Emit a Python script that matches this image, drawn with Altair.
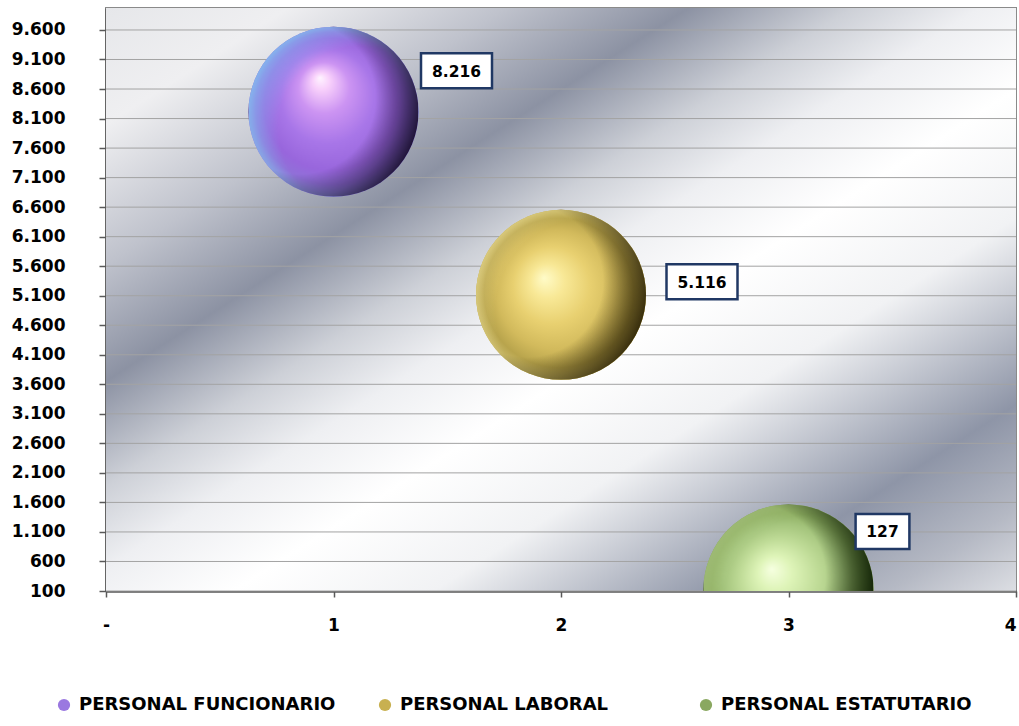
import altair as alt
import pandas as pd

# --- data -------------------------------------------------------------
series = ["PERSONAL FUNCIONARIO", "PERSONAL LABORAL", "PERSONAL ESTATUTARIO"]
x_vals = [1, 2, 3]
y_vals = [8216, 5116, 127]
x_ticks = [0, 1, 2, 3, 4]
y_ticks = [100, 600, 1100, 1600, 2100, 2600, 3100, 3600, 4100, 4600,
           5100, 5600, 6100, 6600, 7100, 7600, 8100, 8600, 9100, 9600]

# --- styling ----------------------------------------------------------
W, H = 910, 583
FONT = "DejaVu Sans"
legend_colors = ["#9a78e0", "#c8b050", "#8aa860"]
bubble_diameter = 170
bubble_area = bubble_diameter ** 2   # vega circles: diameter = sqrt(size)
label_dx = [123, 141, 94]
label_dy = [-41, -13, -58]


def stops(pairs):
    return [alt.GradientStop(color=c, offset=o) for o, c in pairs]


def radial(pairs, fx, fy, cx=0.5, cy=0.5, r=0.5):
    return alt.RadialGradient(gradient="radial", stops=stops(pairs),
                              x1=fx, y1=fy, r1=0, x2=cx, y2=cy, r2=r)


def linear(pairs, x1, y1, x2, y2):
    return alt.LinearGradient(gradient="linear", stops=stops(pairs),
                              x1=x1, y1=y1, x2=x2, y2=y2)


# sphere body: bright highlight toward the upper left
sphere_body = [
    radial([(0, "#fff4ff"), (0.1, "#f8d0fb"), (0.3, "#cc94f2"), (0.55, "#a876e8"),
            (0.78, "#9866dc"), (0.9, "#9070d8"), (1, "#8a90d8")], 0.42, 0.3),
    radial([(0, "#fffbc8"), (0.2, "#f8e896"), (0.45, "#e8d070"), (0.7, "#d2ba5c"),
            (0.88, "#b8a44c"), (1, "#c8b868")], 0.4, 0.4),
    radial([(0, "#f6ffe0"), (0.2, "#def4b8"), (0.45, "#c0dc98"), (0.7, "#a4c47c"),
            (0.88, "#8cac60"), (1, "#86a45c")], 0.4, 0.38),
]
# light crescent on the upper-left rim
sphere_glow = [
    radial([(0, "rgba(130,200,250,0)"), (0.62, "rgba(130,200,250,0)"),
            (0.85, "rgba(130,200,250,0.55)"), (1, "rgba(130,200,250,0.9)")],
           0.66, 0.6, 0.66, 0.6, 0.78),
    radial([(0, "rgba(255,240,170,0)"), (0.7, "rgba(255,240,170,0)"),
            (1, "rgba(255,240,170,0.5)")], 0.66, 0.6, 0.66, 0.6, 0.78),
    radial([(0, "rgba(210,235,170,0)"), (0.7, "rgba(210,235,170,0)"),
            (1, "rgba(210,235,170,0.5)")], 0.66, 0.6, 0.66, 0.6, 0.78),
]
# dark crescent on the right / lower-right rim
sphere_shade = [
    radial([(0, "rgba(25,10,45,0)"), (0.62, "rgba(25,10,45,0)"),
            (0.82, "rgba(25,10,45,0.45)"), (1, "rgba(25,10,45,0.95)")],
           0.3, 0.42, 0.3, 0.42, 0.72),
    radial([(0, "rgba(45,35,5,0)"), (0.62, "rgba(45,35,5,0)"),
            (0.82, "rgba(45,35,5,0.5)"), (1, "rgba(45,35,5,0.95)")],
           0.3, 0.42, 0.3, 0.42, 0.72),
    radial([(0, "rgba(12,28,2,0)"), (0.58, "rgba(12,28,2,0)"),
            (0.8, "rgba(12,28,2,0.55)"), (1, "rgba(12,28,2,0.97)")],
           0.3, 0.42, 0.3, 0.42, 0.72),
]

backdrop = linear([
    (0.0, "#e6e7ea"), (0.10, "#efeff1"), (0.22, "#bfc2cc"), (0.32, "#8c92a3"),
    (0.41, "#cdd0d7"), (0.48, "#eeeff2"), (0.57, "#ffffff"), (0.68, "#f1f2f4"),
    (0.84, "#8e95a7"), (0.93, "#b5b9c4"), (1.0, "#dcdee3")], 0, 0, 1, 1)

df = pd.DataFrame({"serie": series, "x": x_vals, "y": y_vals})
df["label"] = [f"{v:,}".replace(",", ".") for v in y_vals]
grid_df = pd.DataFrame({"y": y_ticks})

x_enc = alt.X(
    "x:Q",
    scale=alt.Scale(domain=[0, 4], nice=False, zero=False),
    axis=alt.Axis(
        title=None, values=x_ticks, grid=False,
        labelExpr="datum.value == 0 ? '-' : datum.label",
        labelAlign=alt.condition("datum.value == 4", alt.value("right"), alt.value("center")),
        tickSize=6, labelPadding=20,
    ),
)
y_enc = alt.Y(
    "y:Q",
    scale=alt.Scale(domain=[100, 9972], nice=False, zero=False),
    axis=alt.Axis(
        title=None, values=y_ticks, grid=False,
        labelExpr="replace(format(datum.value, ',d'), ',', '.')",
        tickSize=7, labelPadding=34, minExtent=96, maxExtent=96,
    ),
)

# plot-area backdrop
back = alt.Chart(alt.Data(values=[{}])).mark_rect(color=backdrop).encode(
    x=alt.value(0), x2=alt.value("width"), y=alt.value(0), y2=alt.value("height")
)

# horizontal gridlines
grid = alt.Chart(grid_df).mark_rule(color="#a3a3a3", strokeWidth=1).encode(y=y_enc)

layers = [back, grid]

# solid base circles (also feed the legend)
base = alt.Chart(df).mark_circle(size=bubble_area, opacity=1, clip=True).encode(
    x=x_enc, y=y_enc,
    color=alt.Color(
        "serie:N",
        scale=alt.Scale(domain=series, range=legend_colors),
        legend=alt.Legend(
            title=None, orient="none", legendX=-51, legendY=688,
            direction="horizontal", columns=3, gridAlign="all", columnPadding=40,
            labelFont=FONT, labelFontWeight="bold", labelFontSize=18,
            labelColor="black", labelLimit=400, labelOffset=6,
            symbolType="circle", symbolSize=150, symbolStrokeWidth=0,
        ),
    ),
)
layers.append(base)

for i, s in enumerate(series):
    sub = df[df["serie"] == s]
    for fill in (sphere_body[i], sphere_glow[i], sphere_shade[i]):
        layers.append(
            alt.Chart(sub).mark_circle(size=bubble_area, opacity=1, clip=True,
                                       color=fill).encode(x=x_enc, y=y_enc)
        )

# value callouts
for i, s in enumerate(series):
    sub = df[df["serie"] == s]
    text = sub["label"].iloc[0]
    bw = 28 + 8.6 * len(text)
    hh = 35 / bw
    box_path = f"M-1,-{hh:.4f}H1V{hh:.4f}H-1Z"
    layers.append(
        alt.Chart(sub).mark_point(
            shape=box_path, size=bw * bw, filled=True, fill="white",
            stroke="#203864", strokeWidth=2.5, opacity=1,
            xOffset=label_dx[i], yOffset=label_dy[i],
        ).encode(x=x_enc, y=y_enc)
    )
    layers.append(
        alt.Chart(sub).mark_text(
            font=FONT, fontWeight="bold", fontSize=15.5, color="black",
            align="center", baseline="middle",
            xOffset=label_dx[i], yOffset=label_dy[i] + 1,
        ).encode(x=x_enc, y=y_enc, text="label:N")
    )

chart = (
    alt.layer(*layers)
    .properties(width=W, height=H,
                padding={"left": 10, "top": 8, "right": 2, "bottom": 0},
                background="white")
    .configure_view(stroke="#8a8a8a", strokeWidth=2)
    .configure_axis(
        domainColor="#595959", domainWidth=2.5, tickColor="#595959", tickWidth=1.5,
        labelFont=FONT, labelFontWeight="bold", labelFontSize=17, labelColor="black",
    )
)

chart.save("out.html", embed_options={"renderer": "svg", "actions": False})
